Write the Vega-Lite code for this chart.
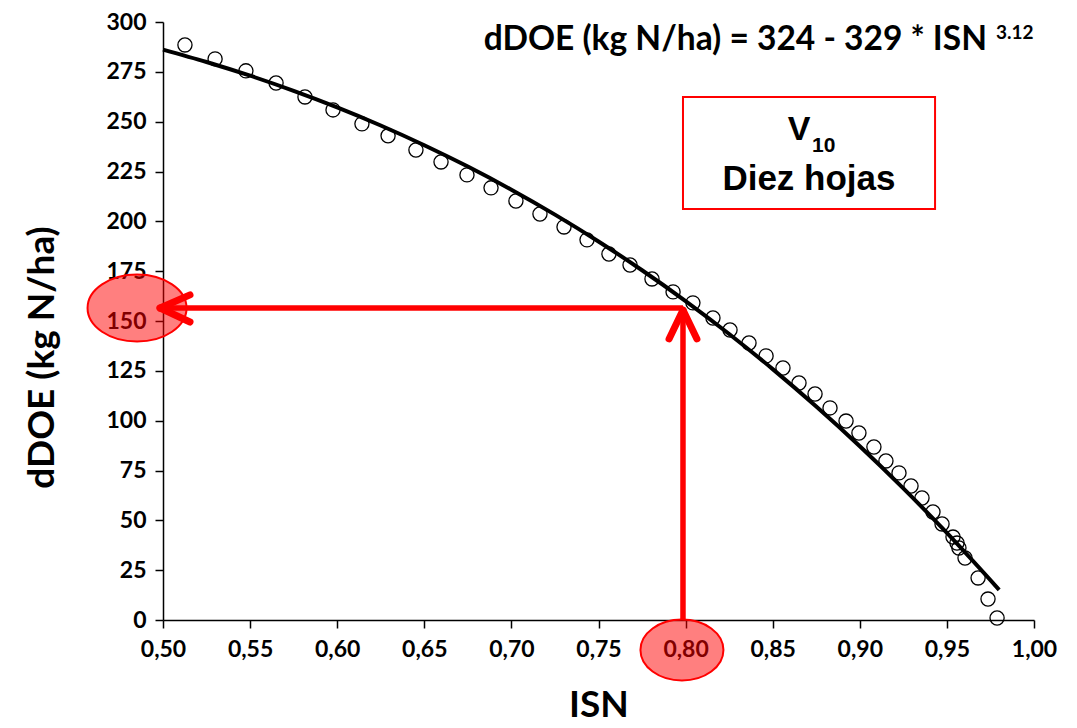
{
  "$schema": "https://vega.github.io/schema/vega-lite/v6.json",
  "width": 871,
  "height": 598,
  "autosize": {"type": "none"},
  "padding": {"left": 163, "top": 22, "right": 43, "bottom": 108},
  "background": "white",
  "config": {"view": {"stroke": null}, "font": "Lato"},
  "datasets": {
    "obs": [
      {"isn": 0.5126, "ddoe": 288.5}, {"isn": 0.5299, "ddoe": 281.5}, {"isn": 0.5476, "ddoe": 275.5},
      {"isn": 0.5649, "ddoe": 269.4}, {"isn": 0.5815, "ddoe": 262.4}, {"isn": 0.5976, "ddoe": 255.9},
      {"isn": 0.6142, "ddoe": 248.9}, {"isn": 0.6292, "ddoe": 242.9}, {"isn": 0.6452, "ddoe": 235.8},
      {"isn": 0.6596, "ddoe": 229.8}, {"isn": 0.6745, "ddoe": 223.3}, {"isn": 0.6883, "ddoe": 216.8},
      {"isn": 0.7026, "ddoe": 210.2}, {"isn": 0.7164, "ddoe": 203.7}, {"isn": 0.7302, "ddoe": 197.2},
      {"isn": 0.7434, "ddoe": 190.7}, {"isn": 0.756, "ddoe": 183.6}, {"isn": 0.7681, "ddoe": 178.1},
      {"isn": 0.7807, "ddoe": 171.1}, {"isn": 0.7928, "ddoe": 164.6}, {"isn": 0.8042, "ddoe": 159.1},
      {"isn": 0.8157, "ddoe": 151.5}, {"isn": 0.8255, "ddoe": 145.5}, {"isn": 0.8364, "ddoe": 139.0},
      {"isn": 0.8462, "ddoe": 132.5}, {"isn": 0.8559, "ddoe": 126.4}, {"isn": 0.8651, "ddoe": 118.9},
      {"isn": 0.8743, "ddoe": 113.4}, {"isn": 0.8829, "ddoe": 106.4}, {"isn": 0.8921, "ddoe": 99.8},
      {"isn": 0.8995, "ddoe": 93.8}, {"isn": 0.9081, "ddoe": 86.8}, {"isn": 0.915, "ddoe": 79.8},
      {"isn": 0.9225, "ddoe": 73.8}, {"isn": 0.9294, "ddoe": 67.2}, {"isn": 0.9357, "ddoe": 61.2},
      {"isn": 0.942, "ddoe": 54.2}, {"isn": 0.9472, "ddoe": 48.2}, {"isn": 0.9535, "ddoe": 41.6},
      {"isn": 0.9558, "ddoe": 38.6}, {"isn": 0.9569, "ddoe": 36.1}, {"isn": 0.9604, "ddoe": 31.1},
      {"isn": 0.9679, "ddoe": 21.1}, {"isn": 0.9736, "ddoe": 10.5}, {"isn": 0.9788, "ddoe": 1.0}
    ],
    "fit": [
      {"isn": 0.5, "ddoe": 286.16}, {"isn": 0.525, "ddoe": 279.93}, {"isn": 0.55, "ddoe": 273.06},
      {"isn": 0.575, "ddoe": 265.48}, {"isn": 0.6, "ddoe": 257.17}, {"isn": 0.625, "ddoe": 248.09},
      {"isn": 0.65, "ddoe": 238.2}, {"isn": 0.675, "ddoe": 227.48}, {"isn": 0.7, "ddoe": 215.88},
      {"isn": 0.725, "ddoe": 203.37}, {"isn": 0.75, "ddoe": 189.91}, {"isn": 0.775, "ddoe": 175.46},
      {"isn": 0.8, "ddoe": 160.0}, {"isn": 0.825, "ddoe": 143.48}, {"isn": 0.85, "ddoe": 125.86},
      {"isn": 0.875, "ddoe": 107.1}, {"isn": 0.9, "ddoe": 87.18}, {"isn": 0.925, "ddoe": 66.04},
      {"isn": 0.95, "ddoe": 43.65}, {"isn": 0.98, "ddoe": 15.1}
    ],
    "shafts": [
      {"isn": 0.4983, "ddoe": 156.5, "isn2": 0.7985, "ddoe2": 156.5},
      {"isn": 0.7985, "ddoe": 0, "isn2": 0.7985, "ddoe2": 156.5}
    ],
    "heads": [
      {"isn": 0.4983, "ddoe": 156.5, "isn2": 0.5155, "ddoe2": 163.1},
      {"isn": 0.4983, "ddoe": 156.5, "isn2": 0.5155, "ddoe2": 149.5},
      {"isn": 0.7985, "ddoe": 155.5, "isn2": 0.7905, "ddoe2": 141},
      {"isn": 0.7985, "ddoe": 155.5, "isn2": 0.8065, "ddoe2": 141}
    ],
    "box": [{"isn": 0.7985, "ddoe": 262.4, "isn2": 0.9432, "ddoe2": 206.2}]
  },
  "encoding": {
    "x": {
      "field": "isn", "type": "quantitative",
      "scale": {"domain": [0.5, 1.0], "nice": false, "zero": false},
      "axis": {
        "values": [0.5, 0.55, 0.6, 0.65, 0.7, 0.75, 0.8, 0.85, 0.9, 0.95, 1.0],
        "labelExpr": "replace(format(datum.value, '.2f'), '.', ',')",
        "title": "ISN", "grid": false, "labelFlush": false, "labelOverlap": false, "labelBound": false,
        "domainColor": "black", "domainWidth": 1.5, "tickColor": "black", "tickWidth": 1.5, "tickSize": 8,
        "labelFont": "Lato", "labelFontWeight": "bold", "labelFontSize": 23, "labelColor": "black", "labelPadding": 10,
        "titleFont": "Lato", "titleFontWeight": "bold", "titleFontSize": 37, "titleColor": "black",
        "titleBaseline": "alphabetic", "titleY": 96
      }
    },
    "y": {
      "field": "ddoe", "type": "quantitative",
      "scale": {"domain": [0, 300], "nice": false, "zero": false},
      "axis": {
        "values": [0, 25, 50, 75, 100, 125, 150, 175, 200, 225, 250, 275, 300],
        "title": "dDOE (kg N/ha)", "grid": false, "labelFlush": false, "labelOverlap": false, "labelBound": false,
        "domainColor": "black", "domainWidth": 1.5, "tickColor": "black", "tickWidth": 1.5, "tickSize": 8,
        "labelFont": "Lato", "labelFontWeight": "bold", "labelFontSize": 23, "labelColor": "black", "labelPadding": 9,
        "titleFont": "Lato", "titleFontWeight": "bold", "titleFontSize": 37, "titleColor": "black",
        "titleBaseline": "middle", "titleAlign": "center", "titleAngle": -90, "titleX": -121, "titleY": 335
      }
    }
  },
  "layer": [
    {
      "data": {"name": "fit"},
      "mark": {"type": "line", "color": "black", "strokeWidth": 4, "interpolate": "monotone"}
    },
    {
      "data": {"name": "obs"},
      "mark": {"type": "point", "shape": "circle", "size": 200, "filled": false, "stroke": "black", "strokeWidth": 1.3, "opacity": 1}
    },
    {
      "data": {"name": "shafts"},
      "mark": {"type": "rule", "color": "#ff0000", "strokeWidth": 5.5},
      "encoding": {"x2": {"field": "isn2"}, "y2": {"field": "ddoe2"}}
    },
    {
      "data": {"name": "heads"},
      "mark": {"type": "rule", "color": "#ff0000", "strokeWidth": 7, "strokeCap": "round"},
      "encoding": {"x2": {"field": "isn2"}, "y2": {"field": "ddoe2"}}
    },
    {
      "data": {"values": [{"isn": 0.4851, "ddoe": 156.5}]},
      "mark": {"type": "point", "shape": "M -1 0 C -1 -0.3739 -0.5523 -0.677 0 -0.677 C 0.5523 -0.677 1 -0.3739 1 0 C 1 0.3739 0.5523 0.677 0 0.677 C -0.5523 0.677 -1 0.3739 -1 0 Z", "size": 9801, "filled": true, "fill": "#ff0000", "fillOpacity": 0.5, "stroke": "#ff0000", "strokeOpacity": 1, "strokeWidth": 2, "opacity": 1}
    },
    {
      "data": {"values": [{"isn": 0.7979, "ddoe": -15.05}]},
      "mark": {"type": "point", "shape": "M -1 0 C -1 -0.4059 -0.5523 -0.735 0 -0.735 C 0.5523 -0.735 1 -0.4059 1 0 C 1 0.4059 0.5523 0.735 0 0.735 C -0.5523 0.735 -1 0.4059 -1 0 Z", "size": 6889, "filled": true, "fill": "#ff0000", "fillOpacity": 0.5, "stroke": "#ff0000", "strokeOpacity": 1, "strokeWidth": 2, "opacity": 1}
    },
    {
      "data": {"name": "box"},
      "mark": {"type": "rect", "fill": "white", "stroke": "#ff0000", "strokeWidth": 2},
      "encoding": {"x2": {"field": "isn2"}, "y2": {"field": "ddoe2"}}
    },
    {
      "data": {"values": [{"isn": 0.973, "ddoe": 286.0, "label": "dDOE (kg N/ha) = 324 - 329 * ISN"}]},
      "mark": {"type": "text", "font": "Lato", "fontWeight": "bold", "fontSize": 33.5, "align": "right", "baseline": "alphabetic", "color": "black"},
      "encoding": {"text": {"field": "label"}}
    },
    {
      "data": {"values": [{"isn": 0.9782, "ddoe": 291.5, "label": "3.12"}]},
      "mark": {"type": "text", "font": "Lato", "fontWeight": "bold", "fontSize": 19, "align": "left", "baseline": "alphabetic", "color": "black"},
      "encoding": {"text": {"field": "label"}}
    },
    {
      "data": {"values": [{"isn": 0.8651, "ddoe": 240.8, "label": "V"}]},
      "mark": {"type": "text", "font": "Liberation Sans", "fontWeight": "bold", "fontSize": 34, "align": "center", "baseline": "alphabetic", "color": "black"},
      "encoding": {"text": {"field": "label"}}
    },
    {
      "data": {"values": [{"isn": 0.8726, "ddoe": 234.8, "label": "10"}]},
      "mark": {"type": "text", "font": "Liberation Sans", "fontWeight": "bold", "fontSize": 21, "align": "left", "baseline": "alphabetic", "color": "black"},
      "encoding": {"text": {"field": "label"}}
    },
    {
      "data": {"values": [{"isn": 0.8708, "ddoe": 215.8, "label": "Diez hojas"}]},
      "mark": {"type": "text", "font": "Liberation Sans", "fontWeight": "bold", "fontSize": 35, "align": "center", "baseline": "alphabetic", "color": "black"},
      "encoding": {"text": {"field": "label"}}
    }
  ]
}
